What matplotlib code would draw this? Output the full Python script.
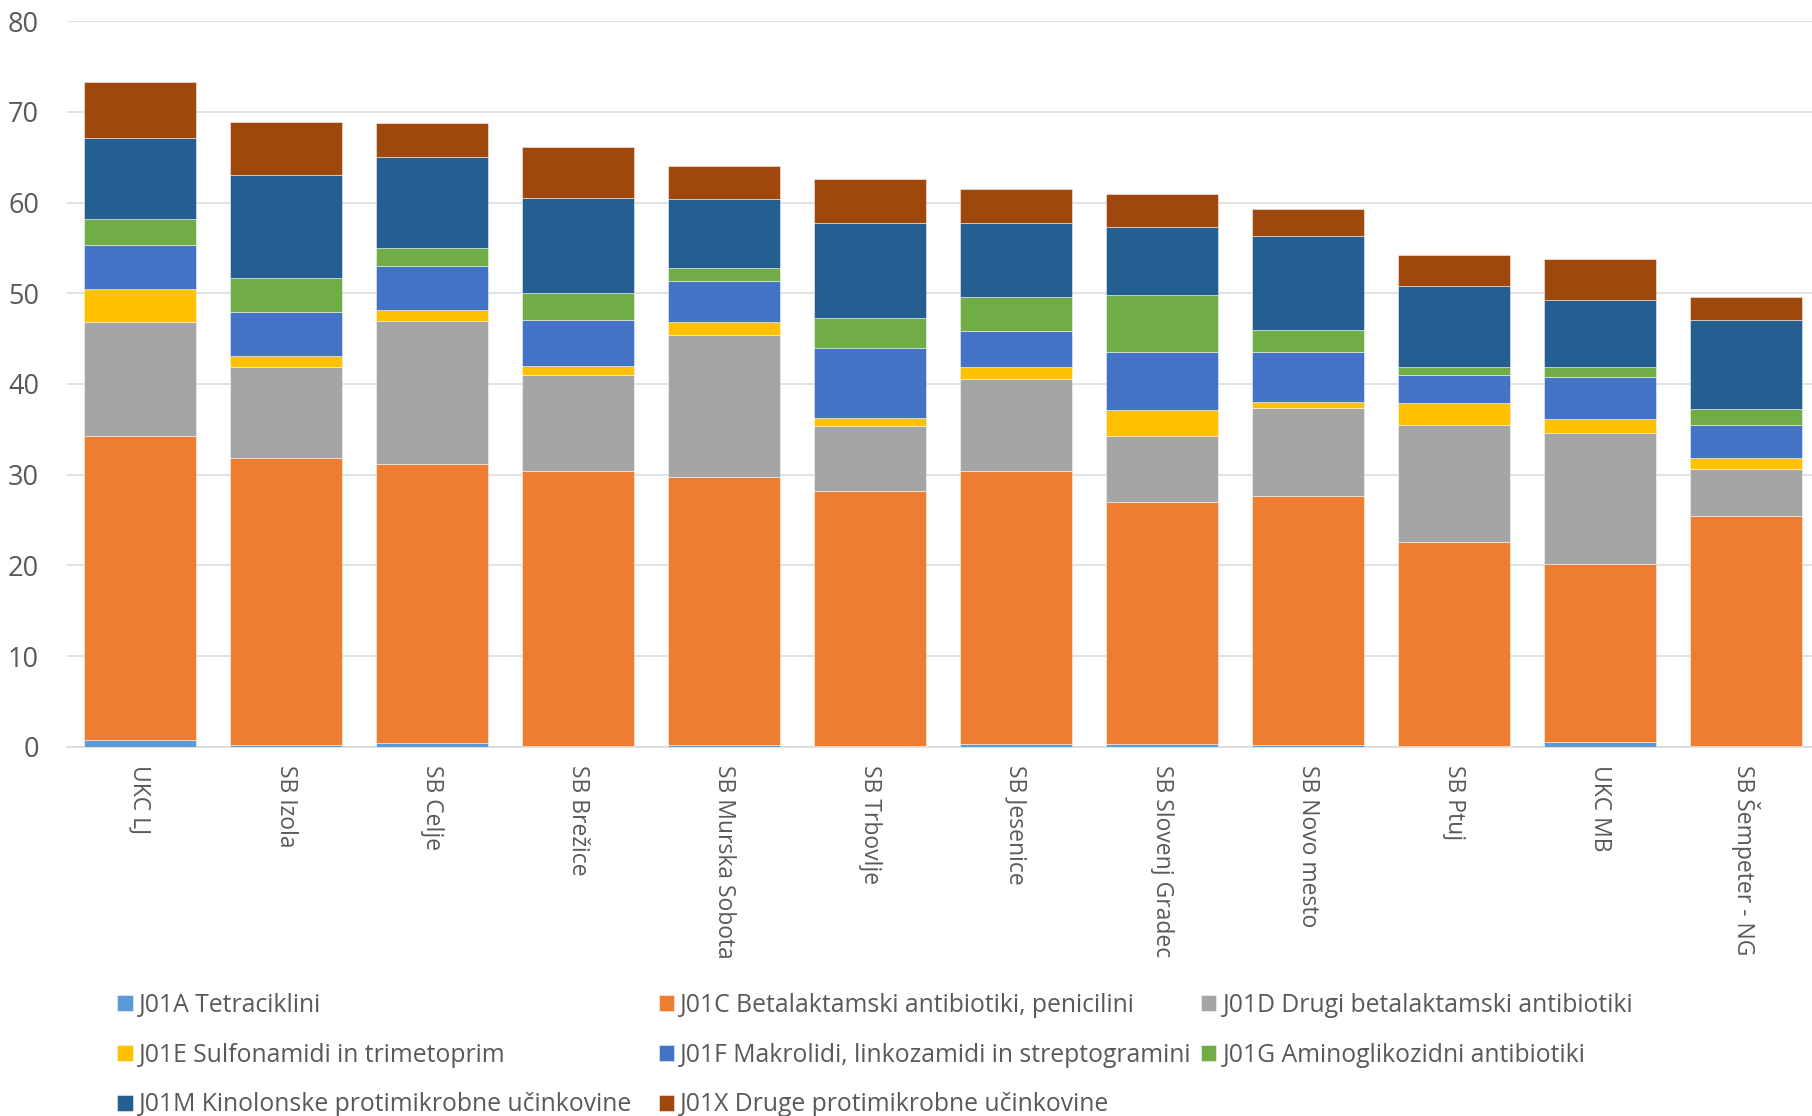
import matplotlib
matplotlib.use("Agg")
import matplotlib.pyplot as plt
import numpy as np

plt.rcParams['font.family'] = ['Open Sans', 'DejaVu Sans']

hospitals = ["UKC LJ", "SB Izola", "SB Celje", "SB Brežice", "SB Murska Sobota",
             "SB Trbovlje", "SB Jesenice", "SB Slovenj Gradec", "SB Novo mesto",
             "SB Ptuj", "UKC MB", "SB Šempeter - NG"]

series_names = [
    "J01A Tetraciklini",
    "J01C Betalaktamski antibiotiki, penicilini",
    "J01D Drugi betalaktamski antibiotiki",
    "J01E Sulfonamidi in trimetoprim",
    "J01F Makrolidi, linkozamidi in streptogramini",
    "J01G Aminoglikozidni antibiotiki",
    "J01M Kinolonske protimikrobne učinkovine",
    "J01X Druge protimikrobne učinkovine",
]

j01a = [0.79, 0.20, 0.39, 0.05, 0.15, 0.05, 0.30, 0.34, 0.15, 0.05, 0.54, 0.10]
j01c = [33.50, 31.67, 30.80, 30.40, 29.61, 28.09, 30.10, 26.66, 27.54, 22.53, 19.63, 25.33]
j01d = [12.50, 9.99, 15.69, 10.52, 15.59, 7.23, 10.13, 7.28, 9.64, 12.93, 14.46, 5.16]
j01e = [3.64, 1.18, 1.23, 1.04, 1.48, 0.88, 1.33, 2.81, 0.64, 2.36, 1.52, 1.19]
j01f = [4.92, 4.92, 4.87, 5.06, 4.52, 7.68, 3.93, 6.44, 5.56, 3.10, 4.63, 3.64]
j01g = [2.85, 3.74, 1.96, 3.00, 1.48, 3.39, 3.74, 6.25, 2.41, 0.94, 1.03, 1.77]
j01m = [8.95, 11.36, 10.09, 10.43, 7.57, 10.43, 8.22, 7.52, 10.38, 8.90, 7.43, 9.88]
j01x = [6.15, 5.80, 3.78, 5.66, 3.59, 4.87, 3.78, 3.64, 2.95, 3.35, 4.52, 2.56]

series_values = [j01a, j01c, j01d, j01e, j01f, j01g, j01m, j01x]
colors = ["#5B9BD5", "#ED7D31", "#A5A5A5", "#FFC000",
          "#4472C4", "#70AD47", "#255E91", "#9E480E"]

W, H = 1812, 1116
fig = plt.figure(figsize=(W / 100, H / 100), dpi=100)

left_px, right_px = 66.7, 1812
bottom_px, top_px = 746.7, 21.1
ax = fig.add_axes([left_px / W, 1 - bottom_px / H,
                   (right_px - left_px) / W, (bottom_px - top_px) / H])

x = np.arange(len(hospitals))
bottom = np.zeros(len(hospitals))
handles = []
for name, vals, col in zip(series_names, series_values, colors):
    vals = np.array(vals)
    b = ax.bar(x, vals, width=0.767, bottom=bottom, color=col,
               edgecolor=(1, 1, 1, 0.55), linewidth=0.6, label=name, zorder=3)
    handles.append(b)
    bottom += vals

ax.set_ylim(0, 80)
ax.set_yticks(np.arange(0, 81, 10))
ax.set_xlim(-0.5, -0.5 + (right_px - left_px) / 146.0)
ax.grid(axis='y', color='#d9d9d9', linewidth=1.1, zorder=0)
ax.set_axisbelow(True)
for s in ['left', 'right', 'top']:
    ax.spines[s].set_visible(False)
ax.spines['bottom'].set_color('#d9d9d9')
ax.spines['bottom'].set_linewidth(1.1)

ax.set_xticks(x)
ax.set_xticklabels(hospitals, rotation=-90, ha='center', va='top',
                   fontsize=16.5, color='#595959')
ax.tick_params(axis='x', length=0, pad=13)
ax.tick_params(axis='y', length=0, pad=20, labelsize=19.5, labelcolor='#595959')

# legend laid out row by row in three fixed-position columns
columns = [[0, 3, 6], [1, 4, 7], [2, 5]]
column_x = [117.3, 658.7, 1201.0]
legend_top = 993
for idx, cx in zip(columns, column_x):
    leg = fig.legend([handles[i] for i in idx], [series_names[i] for i in idx],
                     ncol=1, loc='upper left', bbox_to_anchor=(cx / W, 1 - legend_top / H),
                     frameon=False, fontsize=17.8, borderpad=0, borderaxespad=0,
                     handlelength=0.62, handleheight=0.62, handletextpad=0.25,
                     labelspacing=1.0)
    for t in leg.get_texts():
        t.set_color('#595959')

fig.savefig("out.png", dpi=100)
